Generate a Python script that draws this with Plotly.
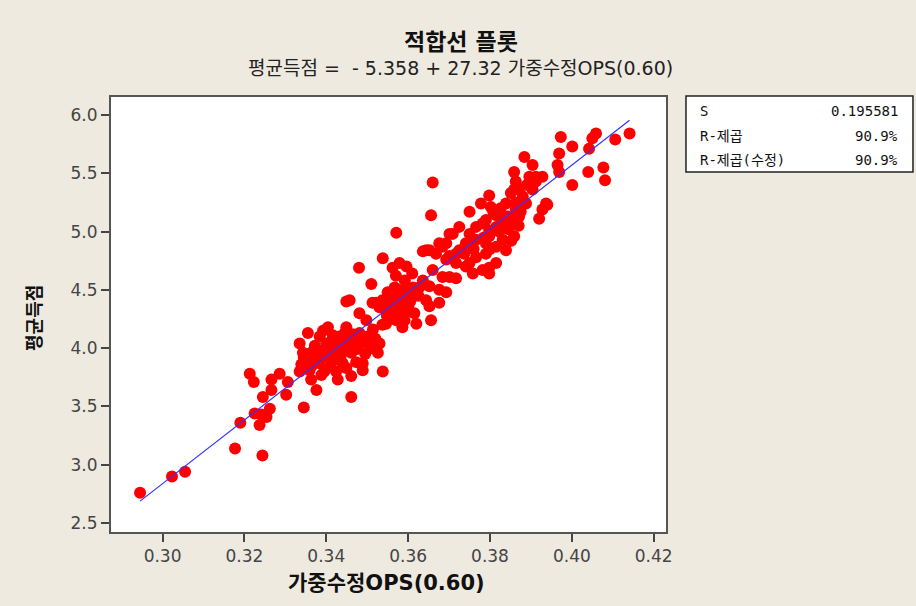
import plotly.graph_objects as go

# Data
ops = [0.2945, 0.3023, 0.3055, 0.3177, 0.3244, 0.3190, 0.3213, 0.3223, 0.3266, 0.3286,
       0.3306, 0.3245, 0.3266, 0.3302, 0.3225, 0.3241, 0.3237, 0.3262, 0.3254, 0.3345,
       0.3335, 0.3355, 0.3343, 0.3339, 0.3335, 0.3363, 0.3359, 0.3363, 0.3376, 0.3384,
       0.3404, 0.3400, 0.3384, 0.3388, 0.3416, 0.3428, 0.3420, 0.3424, 0.3428, 0.3449,
       0.3445, 0.3461, 0.3440, 0.3461, 0.3449, 0.3461, 0.3461, 0.3473, 0.3489, 0.3489,
       0.3481, 0.3498, 0.3485, 0.3501, 0.3514, 0.3510, 0.3526, 0.3530, 0.3538, 0.3449,
       0.3522, 0.3546, 0.3562, 0.3579, 0.3595, 0.3546, 0.3571, 0.3591, 0.3620, 0.3571,
       0.3480, 0.3538, 0.3510, 0.3457, 0.3562, 0.3579, 0.3596, 0.3610, 0.3567, 0.3550,
       0.3537, 0.3530, 0.3571, 0.3586, 0.3603, 0.3596, 0.3554, 0.3513, 0.3537, 0.3586,
       0.3627, 0.3644, 0.3652, 0.3676, 0.3656, 0.3636, 0.3652, 0.3668, 0.3684, 0.3693,
       0.3701, 0.3717, 0.3660, 0.3684, 0.3693, 0.3717, 0.3701, 0.3725, 0.3750, 0.3766,
       0.3782, 0.3798, 0.3815, 0.3737, 0.3750, 0.3766, 0.3782, 0.3798, 0.3790, 0.3815,
       0.3831, 0.3839, 0.3432, 0.3473, 0.3481, 0.3660, 0.3656, 0.3884, 0.3904, 0.3896,
       0.3969, 0.3965, 0.3859, 0.3863, 0.3851, 0.3871, 0.3888, 0.3863, 0.3839, 0.3843,
       0.3871, 0.3904, 0.3912, 0.3928, 0.3937, 0.3928, 0.3920, 0.3798, 0.3778, 0.3802,
       0.3815, 0.3750, 0.3790, 0.3831, 0.3709, 0.3798, 0.3766, 0.3741, 0.3790, 0.3859,
       0.3676, 0.3644, 0.3725, 0.3693, 0.3717, 0.3741, 0.3758, 0.3815, 0.3798, 0.3701,
       0.3636, 0.3652, 0.3676, 0.4141, 0.4106, 0.4059, 0.4050, 0.4042, 0.3973, 0.4001,
       0.3969, 0.4040, 0.4077, 0.4081, 0.4001, 0.3912, 0.3859, 0.3940, 0.3863,
       0.3370, 0.3395, 0.3410, 0.3435, 0.3452, 0.3465, 0.3392, 0.3372, 0.3350, 0.3410,
       0.3555, 0.3560, 0.3575, 0.3585, 0.3605, 0.3615, 0.3548, 0.3592, 0.3570, 0.3612,
       0.3822, 0.3845, 0.3852, 0.3808, 0.3870, 0.3826, 0.3880, 0.3875,
       0.3345, 0.3380, 0.3405, 0.3415, 0.3440, 0.3475, 0.3495, 0.3500, 0.3520, 0.3395,
       0.3365, 0.3440, 0.3560, 0.3580, 0.3600, 0.3545, 0.3590, 0.3625, 0.3760, 0.3785,
       0.3800, 0.3830, 0.3855, 0.3890]

runs = [2.76, 2.90, 2.94, 3.14, 3.08, 3.36, 3.78, 3.71, 3.73, 3.78,
        3.71, 3.58, 3.64, 3.60, 3.44, 3.43, 3.34, 3.48, 3.41, 3.49,
        4.04, 4.13, 3.96, 3.86, 3.80, 3.96, 3.81, 3.73, 3.64, 4.10,
        4.18, 4.04, 3.87, 3.77, 4.11, 4.01, 3.90, 3.80, 3.73, 4.18,
        4.13, 4.07, 3.98, 3.96, 3.83, 3.76, 3.58, 3.88, 3.87, 3.81,
        4.30, 4.24, 4.04, 4.10, 4.16, 4.00, 3.96, 4.04, 3.80, 4.40,
        4.39, 4.36, 4.30, 4.39, 4.33, 4.21, 4.24, 4.24, 4.21, 4.99,
        4.69, 4.77, 4.55, 4.41, 4.69, 4.73, 4.70, 4.64, 4.52, 4.48,
        4.41, 4.35, 4.33, 4.41, 4.47, 4.31, 4.27, 4.39, 4.20, 4.18,
        4.52, 4.41, 4.36, 4.39, 4.24, 4.83, 4.84, 4.81, 4.87, 4.90,
        4.79, 4.81, 4.67, 4.61, 4.48, 4.60, 4.98, 5.04, 4.98, 5.04,
        5.07, 5.01, 5.04, 4.81, 4.73, 4.78, 4.67, 4.69, 4.81, 4.87,
        4.93, 4.84, 4.10, 3.99, 4.13, 5.42, 5.14, 5.64, 5.57, 5.47,
        5.67, 5.57, 5.51, 5.43, 5.33, 5.36, 5.24, 5.19, 5.24, 5.13,
        5.13, 5.36, 5.47, 5.47, 5.24, 5.19, 5.11, 5.31, 5.24, 5.21,
        5.14, 5.17, 5.10, 5.08, 4.98, 4.96, 4.93, 4.90, 4.90, 4.96,
        4.90, 4.84, 4.84, 4.76, 4.73, 4.70, 4.64, 4.73, 4.64, 4.61,
        4.58, 4.53, 4.50, 5.84, 5.79, 5.84, 5.80, 5.71, 5.81, 5.73,
        5.51, 5.51, 5.55, 5.44, 5.40, 5.43, 5.36, 5.23, 5.25,
        3.92, 3.95, 4.05, 3.93, 4.05, 4.12, 4.15, 4.02, 3.90, 3.84,
        4.40, 4.45, 4.50, 4.28, 4.40, 4.30, 4.28, 4.58, 4.62, 4.52,
        5.00, 5.02, 4.92, 5.17, 5.05, 5.20, 5.30, 5.17,
        3.92, 3.98, 3.92, 3.98, 4.06, 4.05, 3.95, 4.05, 4.08, 3.80,
        3.85, 3.87, 4.35, 4.46, 4.36, 4.33, 4.50, 4.45, 4.85, 4.95,
        4.85, 5.12, 5.10, 5.40]

intercept = -5.358
slope = 27.32
stat_labels = ["S", "R-제곱", "R-제곱(수정)"]
stat_values = ["0.195581", "90.9%", "90.9%"]

x_ticks = [0.30, 0.32, 0.34, 0.36, 0.38, 0.40, 0.42]
y_ticks = [2.5, 3.0, 3.5, 4.0, 4.5, 5.0, 5.5, 6.0]

BG = "#EEEAE0"
FONT = "DejaVu Sans, Noto Sans CJK KR, sans-serif"
MONO = "DejaVu Sans Mono, Noto Sans CJK KR, monospace"

fig = go.Figure()

line_x = [min(ops), max(ops)]
line_y = [intercept + slope * v for v in line_x]

fig.add_trace(go.Scatter(
    x=ops, y=runs, mode="markers",
    marker=dict(color="#FF0000", size=12, line=dict(width=0)),
    hoverinfo="x+y", showlegend=False))

fig.add_trace(go.Scatter(
    x=line_x, y=line_y, mode="lines",
    line=dict(color="#3333FF", width=1.2),
    showlegend=False))

fig.update_layout(
    width=916, height=606, autosize=False,
    margin=dict(l=111, r=250, t=97, b=74),
    paper_bgcolor=BG, plot_bgcolor="white",
    font=dict(family=FONT, size=17, color="#444444"),
    showlegend=False,
)

axis_common = dict(
    ticks="outside", ticklen=8, tickwidth=1.5, tickcolor="#444444",
    showgrid=False, zeroline=False,
    showline=True, mirror=True, linecolor="#555555", linewidth=2,
    tickfont=dict(family=FONT, size=17, color="#444444"),
)
fig.update_xaxes(range=[0.2874, 0.4230], tickvals=x_ticks, tickformat=".2f", **axis_common)
fig.update_yaxes(range=[2.423, 6.154], tickvals=y_ticks, tickformat=".1f", **axis_common)

ann = []
ann.append(dict(text="<b>적합선 플롯</b>", x=0.6306, y=1.126, xref="paper", yref="paper",
                xanchor="center", yanchor="middle", showarrow=False,
                font=dict(family=FONT, size=23, color="#111111")))
ann.append(dict(text="평균득점 =  - 5.358 + 27.32 가중수정OPS(0.60)", x=0.6306, y=1.066,
                xref="paper", yref="paper", xanchor="center", yanchor="middle",
                showarrow=False, font=dict(family=FONT, size=19, color="#222222")))
ann.append(dict(text="<b>가중수정OPS(0.60)</b>", x=0.497, y=-0.117, xref="paper", yref="paper",
                xanchor="center", yanchor="middle", showarrow=False,
                font=dict(family=FONT, size=21, color="#111111")))
ann.append(dict(text="<b>평균득점</b>", x=-0.137, y=0.492, xref="paper", yref="paper",
                xanchor="center", yanchor="middle", textangle=-90, showarrow=False,
                font=dict(family=FONT, size=18, color="#111111")))

row_y = [0.9678, 0.9103, 0.8552]
for lab, val, yy in zip(stat_labels, stat_values, row_y):
    ann.append(dict(text=lab, x=1.0577, y=yy, xref="paper", yref="paper",
                    xanchor="left", yanchor="middle", showarrow=False,
                    font=dict(family=MONO, size=14, color="#111111")))
    ann.append(dict(text=val, x=1.4216, y=yy, xref="paper", yref="paper",
                    xanchor="right", yanchor="middle", showarrow=False,
                    font=dict(family=MONO, size=14, color="#111111")))

fig.update_layout(annotations=ann)
fig.add_shape(type="rect", xref="paper", yref="paper",
              x0=1.036, x1=1.445, y0=0.8276, y1=1.0023,
              line=dict(color="#222222", width=1.5), fillcolor="white", layer="below")

fig.write_html("out.html", config={"displayModeBar": False},
               post_script="document.body.style.margin='0';document.body.style.background='%s';" % BG)
